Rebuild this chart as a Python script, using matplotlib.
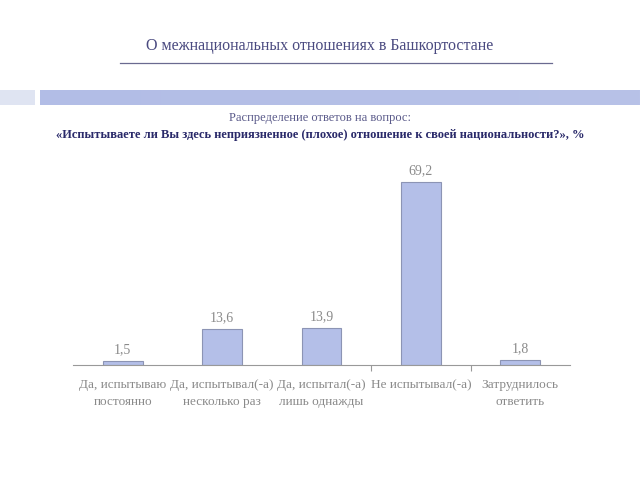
import matplotlib
matplotlib.use("Agg")
import matplotlib.pyplot as plt
from matplotlib.patches import Rectangle
import numpy as np

categories = ["Да, испытываю\nпостоянно", "Да, испытывал(-а)\nнесколько раз",
              "Да, испытал(-а)\nлишь однажды", "Не испытывал(-а)", "Затруднилось\nответить"]
values = [1.5, 13.6, 13.9, 69.2, 1.8]
value_labels = ["1,5", "13,6", "13,9", "69,2", "1,8"]

title = "О межнациональных отношениях в Башкортостане"
sub1 = "Распределение ответов на вопрос:"
sub2 = "«Испытываете ли Вы здесь неприязненное (плохое) отношение к своей национальности?», %"

plt.rcParams['font.family'] = ['Liberation Serif', 'DejaVu Serif']

fig = plt.figure(figsize=(6.4, 4.8), dpi=100)
fig.patch.set_facecolor('white')

# Header
fig.text(0.5, 1 - 46/480, title, ha='center', va='center', fontsize=11.5, color='#4a4a80')
fig.add_artist(plt.Line2D([120/640, 552/640], [1-63/480, 1-63/480], color='#6a6a90', lw=0.9))
# Decorative band
fig.add_artist(Rectangle((0, 1-105/480), 35/640, 15/480, transform=fig.transFigure,
                         facecolor='#dfe4f2', edgecolor='none'))
grad = np.linspace(0, 1, 256).reshape(1, -1)
band_ax = fig.add_axes([40/640, 1-105/480, 600/640, 15/480])
band_ax.imshow(grad, aspect='auto', cmap=matplotlib.colors.LinearSegmentedColormap.from_list(
    'b', ['#b2bde6', '#b8c2e8']))
band_ax.axis('off')

fig.text(0.5, 1 - 118/480, sub1, ha='center', va='center', fontsize=9, color='#5a5a8a')
fig.text(0.5, 1 - 135/480, sub2, ha='center', va='center', fontsize=9, color='#2a2a6a',
         fontweight='bold')

ax = fig.add_axes([73/640, 0.2396, (570-73)/640, 0.4135])
x = np.arange(len(categories))
ax.bar(x, values, width=0.4, color='#b4bfe8', edgecolor='#8c94b4', linewidth=0.8)
ax.set_xlim(-0.5, len(categories) - 0.5)
ax.set_ylim(0, 75)
for xi, v, lab in zip(x, values, value_labels):
    ax.text(xi, v + 1.8, lab, ha='center', va='bottom', fontsize=10, color='#8a8a8a')
for s in ['top', 'right', 'left']:
    ax.spines[s].set_visible(False)
ax.spines['bottom'].set_color('#999999')
ax.set_yticks([])
ax.set_xticks([2.5, 3.5], minor=False)
ax.set_xticklabels([])
ax.tick_params(axis='x', direction='out', length=4, color='#999999')
ax.set_xticks(x, minor=True)
ax.set_xticklabels(categories, minor=True, fontsize=9.5, color='#8a8a8a', linespacing=1.6)
ax.tick_params(axis='x', which='minor', length=0, pad=10)

fig.savefig('out.png', dpi=100)
